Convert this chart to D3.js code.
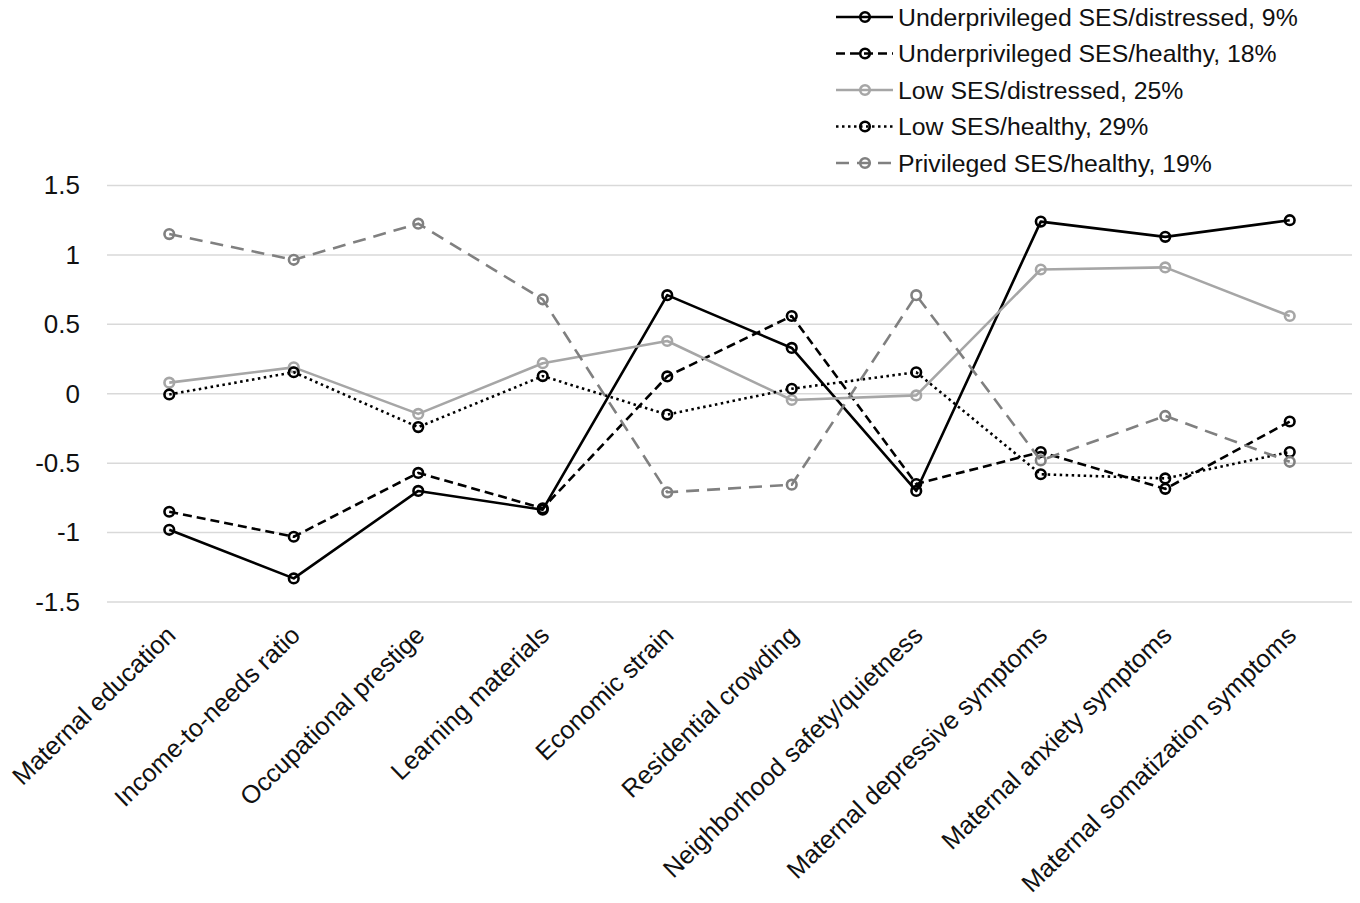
<!DOCTYPE html>
<html>
<head>
<meta charset="utf-8">
<script src="https://cdn.jsdelivr.net/npm/d3@7"></script>
<style>
  html, body { margin: 0; padding: 0; background: #fff; }
  svg { display: block; font-family: "Liberation Sans", Arial, sans-serif; }
</style>
</head>
<body>
<svg id="chart" width="1360" height="903"></svg>
<script>
// Profile indicators along the x axis
const categories = [
  "Maternal education",
  "Income-to-needs ratio",
  "Occupational prestige",
  "Learning materials",
  "Economic strain",
  "Residential crowding",
  "Neighborhood safety/quietness",
  "Maternal depressive symptoms",
  "Maternal anxiety symptoms",
  "Maternal somatization symptoms"
];

// Standardized means per latent profile
const underprivDistressed = [-0.98, -1.33, -0.70, -0.835, 0.71, 0.33, -0.70, 1.24, 1.13, 1.25];
const underprivHealthy    = [-0.85, -1.03, -0.57, -0.825, 0.125, 0.56, -0.65, -0.42, -0.685, -0.20];
const lowDistressed       = [0.08, 0.19, -0.145, 0.22, 0.38, -0.045, -0.012, 0.895, 0.91, 0.56];
const lowHealthy          = [-0.005, 0.155, -0.24, 0.127, -0.15, 0.036, 0.155, -0.58, -0.61, -0.42];
const privHealthy         = [1.15, 0.965, 1.225, 0.68, -0.71, -0.655, 0.71, -0.48, -0.16, -0.49];

const seriesNames = [
  "Underprivileged SES/distressed, 9%",
  "Underprivileged SES/healthy, 18%",
  "Low SES/distressed, 25%",
  "Low SES/healthy, 29%",
  "Privileged SES/healthy, 19%"
];

const yTicks = [-1.5, -1, -0.5, 0, 0.5, 1, 1.5];

// Line styling for each profile
const styles = [
  { color: "#000000", dash: null,      marker: "#000000" },
  { color: "#000000", dash: "9,5",     marker: "#000000" },
  { color: "#a6a6a6", dash: null,      marker: "#a6a6a6" },
  { color: "#000000", dash: "2.5,3.5", marker: "#000000" },
  { color: "#808080", dash: "13,8",    marker: "#808080" }
];

const seriesValues = [underprivDistressed, underprivHealthy, lowDistressed, lowHealthy, privHealthy];
const series = seriesNames.map((name, i) => ({ name, values: seriesValues[i], style: styles[i] }));

const svg = d3.select("#chart");
const plot = { left: 107, right: 1352, top: 185.5, bottom: 602 };

const x = d3.scaleBand().domain(categories).range([plot.left, plot.right]).padding(0);
const y = d3.scaleLinear().domain([-1.5, 1.5]).range([plot.bottom, plot.top]);
const cx = c => x(c) + x.bandwidth() / 2;

// Horizontal gridlines
svg.append("g")
  .selectAll("line")
  .data(yTicks)
  .join("line")
  .attr("x1", plot.left).attr("x2", plot.right)
  .attr("y1", d => y(d)).attr("y2", d => y(d))
  .attr("stroke", "#d9d9d9")
  .attr("stroke-width", 1.5);

// Y axis labels (plain hyphen for negatives)
const yAxis = d3.axisLeft(y).tickValues(yTicks).tickSize(0).tickPadding(0)
  .tickFormat(d => String(d));
svg.append("g")
  .attr("transform", `translate(80,0)`)
  .call(yAxis)
  .call(g => g.select(".domain").remove())
  .call(g => g.selectAll("text")
    .attr("font-size", 26)
    .attr("font-family", "'Liberation Sans', Arial, sans-serif")
    .attr("fill", "#111"));

// X axis labels, rotated
const xAxis = d3.axisBottom(x).tickSize(0).tickPadding(0);
svg.append("g")
  .attr("transform", `translate(0,${plot.bottom})`)
  .call(xAxis)
  .call(g => g.select(".domain").remove())
  .call(g => g.selectAll("text")
    .attr("font-size", 25.3)
    .attr("font-family", "'Liberation Sans', Arial, sans-serif")
    .attr("fill", "#111")
    .attr("text-anchor", "end")
    .attr("dy", 0)
    .attr("y", 0)
    .attr("transform", "translate(8,35) rotate(-44)"));

// Lines
const line = d3.line()
  .x((d, i) => cx(categories[i]))
  .y(d => y(d));

const gSeries = svg.append("g");
series.forEach(s => {
  const g = gSeries.append("g");
  g.append("path")
    .datum(s.values)
    .attr("d", line)
    .attr("fill", "none")
    .attr("stroke", s.style.color)
    .attr("stroke-width", 2.6)
    .attr("stroke-dasharray", s.style.dash)
    .attr("stroke-linejoin", "round");
  g.selectAll("circle")
    .data(s.values)
    .join("circle")
    .attr("cx", (d, i) => cx(categories[i]))
    .attr("cy", d => y(d))
    .attr("r", 4.8)
    .attr("fill", "none")
    .attr("stroke", s.style.marker)
    .attr("stroke-width", 2.6);
});

// Legend
const legend = svg.append("g");
const legendRows = d3.scaleLinear().domain([0, 4]).range([17, 163]);
series.forEach((s, i) => {
  const ly = legendRows(i);
  const row = legend.append("g").attr("transform", `translate(0,${ly})`);
  row.append("line")
    .attr("x1", 836).attr("x2", 893)
    .attr("y1", 0).attr("y2", 0)
    .attr("stroke", s.style.color)
    .attr("stroke-width", 2.6)
    .attr("stroke-dasharray", s.style.dash);
  row.append("circle")
    .attr("cx", 865).attr("cy", 0).attr("r", 4.8)
    .attr("fill", "none")
    .attr("stroke", s.style.marker)
    .attr("stroke-width", 2.6);
  row.append("text")
    .attr("x", 898).attr("y", 0)
    .attr("dy", "0.35em")
    .attr("font-size", 24.8)
    .attr("fill", "#111")
    .text(s.name);
});
</script>
</body>
</html>
